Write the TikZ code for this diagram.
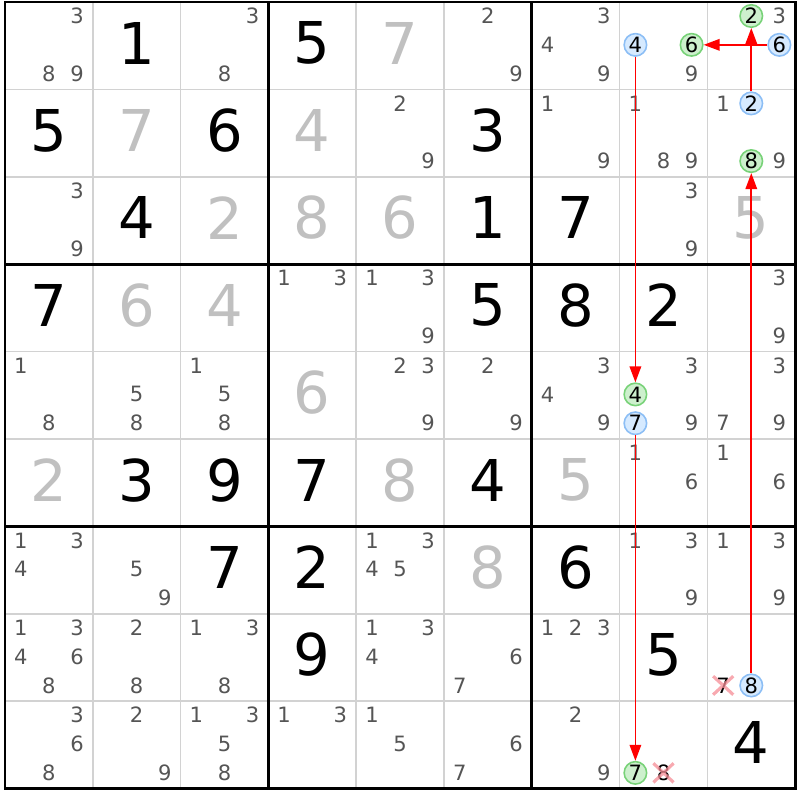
\documentclass[tikz,border=0pt]{standalone}
\usepackage{fontspec}
\setmainfont{DejaVu Sans}
\usepackage{tikz}
\usetikzlibrary{arrows.meta}
\usetikzlibrary{shapes.misc}
\definecolor{solvedgray}{RGB}{192,192,192}
\definecolor{candgray}{RGB}{85,85,85}
\definecolor{gridgray}{RGB}{210,210,210}
\definecolor{onblue}{RGB}{214,234,255}
\definecolor{onblueline}{RGB}{140,190,245}
\definecolor{ongreen}{RGB}{205,240,205}
\definecolor{ongreenline}{RGB}{120,210,120}
\definecolor{xpink}{RGB}{245,140,150}

\begin{document}
\begin{tikzpicture}[x={(0.878cm,0)}, y={(0,-0.874cm)},
  given/.style={font=\fontsize{16.4}{18}\selectfont, text=black, inner sep=0pt},
  solved/.style={given, text=solvedgray},
  cand/.style={font=\fontsize{6}{7}\selectfont, text=candgray, inner sep=0pt},
  bluecand/.style={cand, text=black, circle, minimum size=0.225cm, line width=0.45pt, fill=onblue, draw=onblueline},
  greencand/.style={cand, text=black, circle, minimum size=0.225cm, line width=0.45pt, fill=ongreen, draw=ongreenline},
  offcand/.style={cand, text=black, cross out, draw=xpink, draw opacity=0.75, line width=0.9pt, minimum width=0.17cm, minimum height=0.15cm},
  link/.style={red, line width=0.5pt, -{Triangle[length=1.6mm,width=1.15mm]}}]
\useasboundingbox (-0.057,-0.023) rectangle (9.055,9.13);

% thin lines
\draw[gridgray, line width=0.5pt] (1,0) -- (1,9);
\draw[gridgray, line width=0.5pt] (2,0) -- (2,9);
\draw[gridgray, line width=0.5pt] (4,0) -- (4,9);
\draw[gridgray, line width=0.5pt] (5,0) -- (5,9);
\draw[gridgray, line width=0.5pt] (7,0) -- (7,9);
\draw[gridgray, line width=0.5pt] (8,0) -- (8,9);
\draw[gridgray, line width=0.5pt] (0,1) -- (9,1);
\draw[gridgray, line width=0.5pt] (0,2) -- (9,2);
\draw[gridgray, line width=0.5pt] (0,4) -- (9,4);
\draw[gridgray, line width=0.5pt] (0,5) -- (9,5);
\draw[gridgray, line width=0.5pt] (0,7) -- (9,7);
\draw[gridgray, line width=0.5pt] (0,8) -- (9,8);
% box lines
\draw[black, line width=0.85pt] (3,0) -- (3,9);
\draw[black, line width=0.85pt] (6,0) -- (6,9);
\draw[black, line width=0.85pt] (0,3) -- (9,3);
\draw[black, line width=0.85pt] (0,6) -- (9,6);
\draw[black, line width=0.85pt] (0,0) rectangle (9,9);

% row 1
\node[cand] (r1c1n3) at (0.82,0.16) {3}; \node[cand] (r1c1n8) at (0.5,0.82) {8}; \node[cand] (r1c1n9) at (0.82,0.82) {9};
\node[given] (r1c2) at (1.5,0.47) {1};
\node[cand] (r1c3n3) at (2.82,0.16) {3}; \node[cand] (r1c3n8) at (2.5,0.82) {8};
\node[given] (r1c4) at (3.5,0.47) {5};
\node[solved] (r1c5) at (4.5,0.47) {7};
\node[cand] (r1c6n2) at (5.5,0.16) {2}; \node[cand] (r1c6n9) at (5.82,0.82) {9};
\node[cand] (r1c7n3) at (6.82,0.16) {3}; \node[cand] (r1c7n4) at (6.18,0.49) {4}; \node[cand] (r1c7n9) at (6.82,0.82) {9};
\node[bluecand] (r1c8n4) at (7.18,0.49) {4}; \node[greencand] (r1c8n6) at (7.82,0.49) {6}; \node[cand] (r1c8n9) at (7.82,0.82) {9};
\node[greencand] (r1c9n2) at (8.5,0.16) {2}; \node[cand] (r1c9n3) at (8.82,0.16) {3}; \node[bluecand] (r1c9n6) at (8.82,0.49) {6};

% row 2
\node[given] (r2c1) at (0.5,1.47) {5};
\node[solved] (r2c2) at (1.5,1.47) {7};
\node[given] (r2c3) at (2.5,1.47) {6};
\node[solved] (r2c4) at (3.5,1.47) {4};
\node[cand] (r2c5n2) at (4.5,1.16) {2}; \node[cand] (r2c5n9) at (4.82,1.82) {9};
\node[given] (r2c6) at (5.5,1.47) {3};
\node[cand] (r2c7n1) at (6.18,1.16) {1}; \node[cand] (r2c7n9) at (6.82,1.82) {9};
\node[cand] (r2c8n1) at (7.18,1.16) {1}; \node[cand] (r2c8n8) at (7.5,1.82) {8}; \node[cand] (r2c8n9) at (7.82,1.82) {9};
\node[cand] (r2c9n1) at (8.18,1.16) {1}; \node[bluecand] (r2c9n2) at (8.5,1.16) {2}; \node[greencand] (r2c9n8) at (8.5,1.82) {8}; \node[cand] (r2c9n9) at (8.82,1.82) {9};

% row 3
\node[cand] (r3c1n3) at (0.82,2.16) {3}; \node[cand] (r3c1n9) at (0.82,2.82) {9};
\node[given] (r3c2) at (1.5,2.47) {4};
\node[solved] (r3c3) at (2.5,2.47) {2};
\node[solved] (r3c4) at (3.5,2.47) {8};
\node[solved] (r3c5) at (4.5,2.47) {6};
\node[given] (r3c6) at (5.5,2.47) {1};
\node[given] (r3c7) at (6.5,2.47) {7};
\node[cand] (r3c8n3) at (7.82,2.16) {3}; \node[cand] (r3c8n9) at (7.82,2.82) {9};
\node[solved] (r3c9) at (8.5,2.47) {5};

% row 4
\node[given] (r4c1) at (0.5,3.47) {7};
\node[solved] (r4c2) at (1.5,3.47) {6};
\node[solved] (r4c3) at (2.5,3.47) {4};
\node[cand] (r4c4n1) at (3.18,3.16) {1}; \node[cand] (r4c4n3) at (3.82,3.16) {3};
\node[cand] (r4c5n1) at (4.18,3.16) {1}; \node[cand] (r4c5n3) at (4.82,3.16) {3}; \node[cand] (r4c5n9) at (4.82,3.82) {9};
\node[given] (r4c6) at (5.5,3.47) {5};
\node[given] (r4c7) at (6.5,3.47) {8};
\node[given] (r4c8) at (7.5,3.47) {2};
\node[cand] (r4c9n3) at (8.82,3.16) {3}; \node[cand] (r4c9n9) at (8.82,3.82) {9};

% row 5
\node[cand] (r5c1n1) at (0.18,4.16) {1}; \node[cand] (r5c1n8) at (0.5,4.82) {8};
\node[cand] (r5c2n5) at (1.5,4.49) {5}; \node[cand] (r5c2n8) at (1.5,4.82) {8};
\node[cand] (r5c3n1) at (2.18,4.16) {1}; \node[cand] (r5c3n5) at (2.5,4.49) {5}; \node[cand] (r5c3n8) at (2.5,4.82) {8};
\node[solved] (r5c4) at (3.5,4.47) {6};
\node[cand] (r5c5n2) at (4.5,4.16) {2}; \node[cand] (r5c5n3) at (4.82,4.16) {3}; \node[cand] (r5c5n9) at (4.82,4.82) {9};
\node[cand] (r5c6n2) at (5.5,4.16) {2}; \node[cand] (r5c6n9) at (5.82,4.82) {9};
\node[cand] (r5c7n3) at (6.82,4.16) {3}; \node[cand] (r5c7n4) at (6.18,4.49) {4}; \node[cand] (r5c7n9) at (6.82,4.82) {9};
\node[cand] (r5c8n3) at (7.82,4.16) {3}; \node[greencand] (r5c8n4) at (7.18,4.49) {4}; \node[bluecand] (r5c8n7) at (7.18,4.82) {7}; \node[cand] (r5c8n9) at (7.82,4.82) {9};
\node[cand] (r5c9n3) at (8.82,4.16) {3}; \node[cand] (r5c9n7) at (8.18,4.82) {7}; \node[cand] (r5c9n9) at (8.82,4.82) {9};

% row 6
\node[solved] (r6c1) at (0.5,5.47) {2};
\node[given] (r6c2) at (1.5,5.47) {3};
\node[given] (r6c3) at (2.5,5.47) {9};
\node[given] (r6c4) at (3.5,5.47) {7};
\node[solved] (r6c5) at (4.5,5.47) {8};
\node[given] (r6c6) at (5.5,5.47) {4};
\node[solved] (r6c7) at (6.5,5.47) {5};
\node[cand] (r6c8n1) at (7.18,5.16) {1}; \node[cand] (r6c8n6) at (7.82,5.49) {6};
\node[cand] (r6c9n1) at (8.18,5.16) {1}; \node[cand] (r6c9n6) at (8.82,5.49) {6};

% row 7
\node[cand] (r7c1n1) at (0.18,6.16) {1}; \node[cand] (r7c1n3) at (0.82,6.16) {3}; \node[cand] (r7c1n4) at (0.18,6.49) {4};
\node[cand] (r7c2n5) at (1.5,6.49) {5}; \node[cand] (r7c2n9) at (1.82,6.82) {9};
\node[given] (r7c3) at (2.5,6.47) {7};
\node[given] (r7c4) at (3.5,6.47) {2};
\node[cand] (r7c5n1) at (4.18,6.16) {1}; \node[cand] (r7c5n3) at (4.82,6.16) {3}; \node[cand] (r7c5n4) at (4.18,6.49) {4}; \node[cand] (r7c5n5) at (4.5,6.49) {5};
\node[solved] (r7c6) at (5.5,6.47) {8};
\node[given] (r7c7) at (6.5,6.47) {6};
\node[cand] (r7c8n1) at (7.18,6.16) {1}; \node[cand] (r7c8n3) at (7.82,6.16) {3}; \node[cand] (r7c8n9) at (7.82,6.82) {9};
\node[cand] (r7c9n1) at (8.18,6.16) {1}; \node[cand] (r7c9n3) at (8.82,6.16) {3}; \node[cand] (r7c9n9) at (8.82,6.82) {9};

% row 8
\node[cand] (r8c1n1) at (0.18,7.16) {1}; \node[cand] (r8c1n3) at (0.82,7.16) {3}; \node[cand] (r8c1n4) at (0.18,7.49) {4}; \node[cand] (r8c1n6) at (0.82,7.49) {6}; \node[cand] (r8c1n8) at (0.5,7.82) {8};
\node[cand] (r8c2n2) at (1.5,7.16) {2}; \node[cand] (r8c2n8) at (1.5,7.82) {8};
\node[cand] (r8c3n1) at (2.18,7.16) {1}; \node[cand] (r8c3n3) at (2.82,7.16) {3}; \node[cand] (r8c3n8) at (2.5,7.82) {8};
\node[given] (r8c4) at (3.5,7.47) {9};
\node[cand] (r8c5n1) at (4.18,7.16) {1}; \node[cand] (r8c5n3) at (4.82,7.16) {3}; \node[cand] (r8c5n4) at (4.18,7.49) {4};
\node[cand] (r8c6n6) at (5.82,7.49) {6}; \node[cand] (r8c6n7) at (5.18,7.82) {7};
\node[cand] (r8c7n1) at (6.18,7.16) {1}; \node[cand] (r8c7n2) at (6.5,7.16) {2}; \node[cand] (r8c7n3) at (6.82,7.16) {3};
\node[given] (r8c8) at (7.5,7.47) {5};
\node[offcand] (r8c9n7) at (8.18,7.82) {7}; \node[bluecand] (r8c9n8) at (8.5,7.82) {8};

% row 9
\node[cand] (r9c1n3) at (0.82,8.16) {3}; \node[cand] (r9c1n6) at (0.82,8.49) {6}; \node[cand] (r9c1n8) at (0.5,8.82) {8};
\node[cand] (r9c2n2) at (1.5,8.16) {2}; \node[cand] (r9c2n9) at (1.82,8.82) {9};
\node[cand] (r9c3n1) at (2.18,8.16) {1}; \node[cand] (r9c3n3) at (2.82,8.16) {3}; \node[cand] (r9c3n5) at (2.5,8.49) {5}; \node[cand] (r9c3n8) at (2.5,8.82) {8};
\node[cand] (r9c4n1) at (3.18,8.16) {1}; \node[cand] (r9c4n3) at (3.82,8.16) {3};
\node[cand] (r9c5n1) at (4.18,8.16) {1}; \node[cand] (r9c5n5) at (4.5,8.49) {5};
\node[cand] (r9c6n6) at (5.82,8.49) {6}; \node[cand] (r9c6n7) at (5.18,8.82) {7};
\node[cand] (r9c7n2) at (6.5,8.16) {2}; \node[cand] (r9c7n9) at (6.82,8.82) {9};
\node[greencand] (r9c8n7) at (7.18,8.82) {7}; \node[offcand] (r9c8n8) at (7.5,8.82) {8};
\node[given] (r9c9) at (8.5,8.47) {4};

% chain
\draw[link] (r1c9n6) -- (r1c8n6);
\draw[link] (r2c9n2) -- (r1c9n2);
\draw[link] (r1c8n4) -- (r5c8n4);
\draw[link] (r5c8n7) -- (r9c8n7);
\draw[link] (r8c9n8) -- (r2c9n8);

\end{tikzpicture}
\end{document}
